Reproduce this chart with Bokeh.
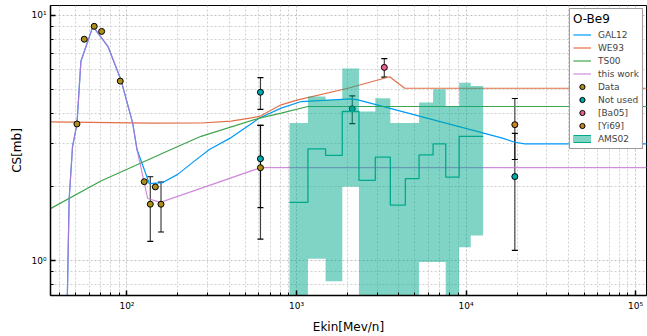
from bokeh.plotting import figure
from bokeh.models import (ColumnDataSource, FixedTicker, Whisker, TeeHead, Legend,
                          LegendItem, Range1d)
from bokeh.embed import file_html
from bokeh.resources import INLINE

FONT = "DejaVu Sans"

# ---------------- data (Ekin [MeV/n], CS [mb]) ----------------
# common low-energy part of the GAL12 / "this work" models
rise_E = [43.8, 45.6, 47.75, 50.7, 53.5, 63.0, 77.5, 92.2, 108.1, 114.6]
rise_CS = [0.4, 1.78, 2.92, 3.61, 6.51, 9.03, 7.44, 5.46, 3.64, 2.84]

gal12_E = rise_E + [135.4, 162.5, 199.3, 249.7, 306.3, 411.5, 604.6, 812.2, 1066,
                    2104, 2305, 16190, 19400, 22220, 120000]
gal12_CS = rise_CS + [2.064, 2.083, 2.25, 2.547, 2.841, 3.177, 3.817, 4.191, 4.457,
                      4.571, 4.528, 3.168, 3.041, 2.996, 2.996]

thiswork_E = rise_E + [132.5, 157.3, 612.9, 120000]
thiswork_CS = rise_CS + [1.794, 1.729, 2.395, 2.395]

we93_E = [30, 138.6, 273.6, 411.5, 604.6, 812, 1019, 2012, 3543, 4345, 120000]
we93_CS = [3.69, 3.637, 3.644, 3.706, 3.875, 4.322, 4.528, 5.05, 5.626, 5.05, 5.05]

ts00_E = [30, 35.6, 70.2, 181.9, 273.6, 604.6, 812, 1168, 120000]
ts00_CS = [1.53, 1.635, 2.114, 2.841, 3.216, 3.817, 4.0, 4.254, 4.254]

# measurements
data_E = [50.7, 56.0, 64.1, 70.9, 91.3, 126.5, 147.0, 137.3, 158.8, 612.9]
data_CS = [3.61, 8.0, 9.03, 8.61, 5.40, 2.10, 2.00, 1.70, 1.70, 2.395]
data_err = [0, 0, 0, 0, 0, 0, 0, 0.5, 0.39, 1.17]

notused_E = [612.9, 612.9, 2133, 19400]
notused_CS = [4.864, 2.605, 4.164, 2.203]
notused_err = [0.72, 0.96, 0.54, 1.10]

ba05_E = [3296]
ba05_CS = [6.14]
ba05_err = [0.53]

yi69_E = [19400]
yi69_CS = [3.587]
yi69_err = [1.0]

# AMS02 binned ratio (bin edges, central values, band limits)
ams_edges = [909, 1168, 1484, 1862, 2336, 2917, 3577, 4386, 5284, 6393, 7589, 9107, 10660, 12620]
ams_CS = [1.729, 2.860, 2.687, 4.059, 2.128, 2.644, 1.686, 2.162, 2.704, 2.996, 2.194, 3.216, 3.216]
ams_hi = [3.643, 4.670, 4.528, 6.084, 4.059, 4.600, 3.643, 3.643, 4.415, 5.003, 4.254, 5.319, 5.159]
ams_lo = [0.3, 1.019, 0.824, 2.003, 0.3, 0.3, 0.3, 0.3, 0.988, 0.988, 0.3, 1.136, 1.266]

# legend swatch placeholder (lies left of the visible x range)
swatch_E = [1, 2]
swatch_CS = [1, 1]

legend_title = "O-Be9"

# axes
x_major = [100, 1000, 10000, 100000]
x_labels = ["10\u00b2", "10\u00b3", "10\u2074", "10\u2075"]
y_major = [1, 10]
y_labels = ["10\u2070", "10\u00b9"]

# ---------------- colours ----------------
C_GAL, C_WE, C_TS, C_TW = "#009AFA", "#E36F47", "#3EA44E", "#C371D2"
C_DATA, C_NU, C_BA, C_YI, C_AMS = "#AC8E18", "#00A9AD", "#ED5E93", "#C68225", "#00A98D"

p = figure(width=647, height=336, x_axis_type="log", y_axis_type="log",
           x_range=Range1d(35.4, 116000), y_range=Range1d(0.7216, 10.98),
           output_backend="svg", toolbar_location=None,
           min_border_left=50, min_border_right=1, min_border_top=5, min_border_bottom=39,
           x_axis_label="Ekin[Mev/n]", y_axis_label="CS[mb]")

x_minor = [m * 10 ** k for k in range(1, 6) for m in range(2, 10)]
y_minor = [0.8, 0.9] + [m for m in range(2, 10)] + [20]
p.xaxis.ticker = FixedTicker(ticks=x_major, minor_ticks=x_minor)
p.yaxis.ticker = FixedTicker(ticks=y_major, minor_ticks=y_minor)
p.xaxis.major_label_overrides = dict(zip(x_major, x_labels))
p.yaxis.major_label_overrides = dict(zip(y_major, y_labels))

for ax in (p.xaxis[0], p.yaxis[0]):
    ax.major_tick_in = 5
    ax.major_tick_out = 0
    ax.minor_tick_in = 3
    ax.minor_tick_out = 0
    ax.major_tick_line_width = 1.5
    ax.minor_tick_line_width = 1
    ax.axis_line_width = 1.5
    ax.axis_line_color = "black"
    ax.major_label_text_font = FONT
    ax.major_label_text_font_size = "9px"
    ax.major_label_text_color = "black"
    ax.axis_label_text_font = FONT
    ax.axis_label_text_font_size = "12px"
    ax.axis_label_text_font_style = "normal"
    ax.axis_label_text_color = "black"
p.xaxis.major_label_standoff = 5
p.yaxis.major_label_standoff = 4
p.xaxis.axis_label_standoff = 6
p.yaxis.axis_label_standoff = 4

p.grid.grid_line_color = "#c0c0c0"
p.grid.grid_line_dash = "2 2"
p.grid.minor_grid_line_color = "#d0d0d0"
p.grid.minor_grid_line_dash = "2 2"
p.outline_line_color = "black"
p.outline_line_width = 1

# model lines
r_gal = p.line(gal12_E, gal12_CS, line_color=C_GAL, line_width=1.2)
r_we = p.line(we93_E, we93_CS, line_color=C_WE, line_width=1.2)
r_ts = p.line(ts00_E, ts00_CS, line_color=C_TS, line_width=1.2)
r_tw = p.line(thiswork_E, thiswork_CS, line_color=C_TW, line_width=1.2, line_alpha=0.8)

# error bars
eb_x, eb_lo, eb_hi = [], [], []
for E_, CS_, err_ in ((data_E, data_CS, data_err), (notused_E, notused_CS, notused_err),
                      (ba05_E, ba05_CS, ba05_err), (yi69_E, yi69_CS, yi69_err)):
    for e, c, d in zip(E_, CS_, err_):
        if d > 0:
            eb_x.append(e)
            eb_lo.append(c - d)
            eb_hi.append(c + d)
eb_src = ColumnDataSource(dict(x=eb_x, lower=eb_lo, upper=eb_hi))
p.add_layout(Whisker(base="x", lower="lower", upper="upper", source=eb_src,
                     dimension="height", line_color="black", line_alpha=0.75, line_width=1.2,
                     upper_head=TeeHead(size=6, line_color="black", line_width=1.2),
                     lower_head=TeeHead(size=6, line_color="black", line_width=1.2)))

mk = dict(marker="circle", size=6, line_color="black", line_width=1)
r_data = p.scatter(data_E, data_CS, fill_color=C_DATA, **mk)
r_nu = p.scatter(notused_E, notused_CS, fill_color=C_NU, **mk)
r_ba = p.scatter(ba05_E, ba05_CS, fill_color=C_BA, **mk)
r_yi = p.scatter(yi69_E, yi69_CS, fill_color=C_YI, **mk)

# AMS02 band (step-shaped) and central step line
band_x, band_y = [], []
for i in range(len(ams_CS)):
    band_x += [ams_edges[i], ams_edges[i + 1]]
    band_y += [ams_hi[i], ams_hi[i]]
for i in reversed(range(len(ams_CS))):
    band_x += [ams_edges[i + 1], ams_edges[i]]
    band_y += [ams_lo[i], ams_lo[i]]
p.patch(band_x, band_y, fill_color=C_AMS, fill_alpha=0.5, line_color=None)
p.step(ams_edges, ams_CS + [ams_CS[-1]], mode="after", line_color=C_AMS, line_width=1.3)

# legend swatch for the band (outside the visible range)
r_ams_a = p.line(swatch_E, swatch_CS, line_color=C_AMS, line_width=8)
r_ams_b = p.line(swatch_E, swatch_CS, line_color="#80D4C6", line_width=6)

legend = Legend(items=[
    LegendItem(label="GAL12", renderers=[r_gal]),
    LegendItem(label="WE93", renderers=[r_we]),
    LegendItem(label="TS00", renderers=[r_ts]),
    LegendItem(label="this work", renderers=[r_tw]),
    LegendItem(label="Data", renderers=[r_data]),
    LegendItem(label="Not used", renderers=[r_nu]),
    LegendItem(label="[Ba05]", renderers=[r_ba]),
    LegendItem(label="[Yi69]", renderers=[r_yi]),
    LegendItem(label="AMS02", renderers=[r_ams_a, r_ams_b]),
], location="top_right", title=legend_title)
legend.title_text_font = FONT
legend.title_text_font_size = "12px"
legend.title_text_font_style = "normal"
legend.title_text_color = "black"
legend.title_text_align = "center"
legend.title_standoff = 2
legend.label_text_font = FONT
legend.label_text_font_size = "9px"
legend.label_height = 13
legend.glyph_height = 13
legend.glyph_width = 18
legend.label_standoff = 7
legend.spacing = 0
legend.padding = 3
legend.margin = 3
legend.border_line_color = "#333333"
legend.border_line_width = 1
legend.background_fill_alpha = 1
p.add_layout(legend)

open("out.html", "w").write(file_html(p, INLINE))
